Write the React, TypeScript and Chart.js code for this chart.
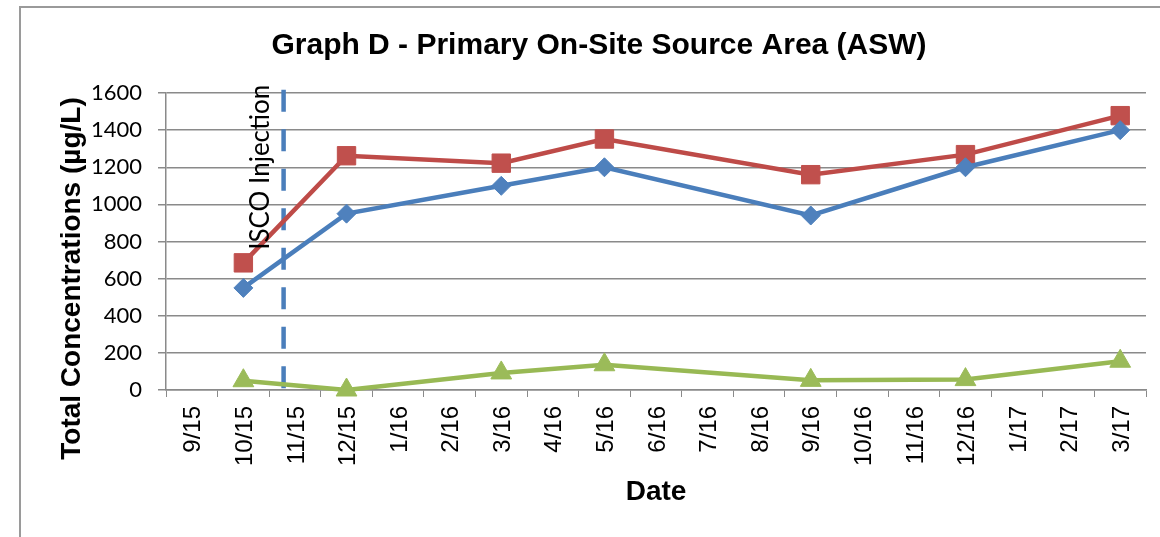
import React, { useEffect, useRef } from "react";
import { Chart, registerables } from "chart.js";

Chart.register(...registerables);

// ---- data ----
const months = [
  "9/15", "10/15", "11/15", "12/15", "1/16", "2/16", "3/16", "4/16", "5/16", "6/16",
  "7/16", "8/16", "9/16", "10/16", "11/16", "12/16", "1/17", "2/17", "3/17",
];
const seriesBlue = [null, 550, null, 950, null, null, 1100, null, 1200, null, null, null, 940, null, null, 1200, null, null, 1400];
const seriesRed = [null, 685, null, 1262, null, null, 1222, null, 1352, null, null, null, 1160, null, null, 1268, null, null, 1478];
const seriesGreen = [null, 50, null, 0, null, null, 92, null, 136, null, null, null, 52, null, null, 56, null, null, 155];
const yMin = 0;
const yMax = 1600;
const yStep = 200;
const injectionIndex = 1.78; // between 10/15 and 11/15
const injectionTop = 1618;
const injectionLabelAt = 1200;
const injectionLabel = "ISCO Injection";
const chartTitle = "Graph D - Primary On-Site Source Area (ASW)";
const yTitle = "Total Concentrations (µg/L)";
const xTitle = "Date";

const ARIAL = "'Liberation Sans', Arial, sans-serif";
const CALIBRI = "Lato, 'Open Sans', sans-serif";
const GRID = "#8a8a8a";

const annotPlugin = {
  id: "annot",
  beforeDatasetsDraw(chart: any) {
    const { ctx, scales } = chart;
    const x = scales.x;
    const y = scales.y;
    const px = x.getPixelForValue(injectionIndex);
    ctx.save();
    ctx.strokeStyle = "#4A7EBB";
    ctx.lineWidth = 4.5;
    ctx.setLineDash([22, 17.5]);
    ctx.beginPath();
    ctx.moveTo(px, y.getPixelForValue(injectionTop));
    ctx.lineTo(px, y.getPixelForValue(0));
    ctx.stroke();
    ctx.restore();
  },
  afterDraw(chart: any) {
    const { ctx, scales, chartArea } = chart;
    const x = scales.x;
    const y = scales.y;
    const px = x.getPixelForValue(injectionIndex);
    ctx.save();
    // injection label
    ctx.translate(px - 15, y.getPixelForValue(injectionLabelAt));
    ctx.rotate(-Math.PI / 2);
    ctx.font = `26px ${CALIBRI}`;
    ctx.fillStyle = "#000";
    ctx.textAlign = "center";
    ctx.textBaseline = "alphabetic";
    ctx.fillText(injectionLabel, 0, 0);
    ctx.restore();

    // y axis title
    ctx.save();
    ctx.translate(chartArea.left - 86, (chartArea.top + chartArea.bottom) / 2 + 37);
    ctx.rotate(-Math.PI / 2);
    ctx.font = `bold 28px ${ARIAL}`;
    ctx.fillStyle = "#000";
    ctx.textAlign = "center";
    ctx.textBaseline = "alphabetic";
    ctx.fillText(yTitle, 0, 0);
    ctx.restore();
  },
};

export default function App() {
  const ref = useRef<HTMLCanvasElement | null>(null);

  useEffect(() => {
    if (!ref.current) return;
    const chart = new Chart(ref.current, {
      type: "line",
      data: {
        labels: months,
        datasets: [
          {
            label: "Series 1",
            data: seriesBlue,
            borderColor: "#4A7EBB",
            backgroundColor: "#4F81BD",
            pointBackgroundColor: "#4F81BD",
            pointBorderColor: "#4F81BD",
            borderWidth: 4.5,
            pointStyle: "rectRot",
            pointRadius: 9.5,
            pointBorderWidth: 1,
            spanGaps: true,
            clip: false,
          },
          {
            label: "Series 2",
            data: seriesRed,
            borderColor: "#BE4B48",
            backgroundColor: "#C0504D",
            pointBackgroundColor: "#C0504D",
            pointBorderColor: "#C0504D",
            borderWidth: 4.5,
            pointStyle: "rect",
            pointRadius: 13,
            pointBorderWidth: 1,
            spanGaps: true,
            clip: false,
          },
          {
            label: "Series 3",
            data: seriesGreen,
            borderColor: "#98B954",
            backgroundColor: "#9BBB59",
            pointBackgroundColor: "#9BBB59",
            pointBorderColor: "#9BBB59",
            borderWidth: 4.5,
            pointStyle: "triangle",
            pointRadius: 12,
            pointBorderWidth: 1,
            spanGaps: true,
            clip: false,
          },
        ],
      },
      options: {
        responsive: false,
        animation: false,
        devicePixelRatio: 1,
        layout: { padding: { left: 48, right: 10, top: 0, bottom: 0 } },
        plugins: {
          legend: { display: false },
          tooltip: { enabled: false },
          title: {
            display: true,
            text: chartTitle,
            color: "#000",
            font: { family: ARIAL, size: 30, weight: "bold" },
            padding: { top: 28, bottom: 29 },
          },
        },
        scales: {
          x: {
            type: "category",
            offset: true,
            afterFit(scale: any) {
              scale.height = 147;
            },
            grid: {
              offset: true,
              drawOnChartArea: false,
              drawTicks: true,
              tickLength: 7,
              color: GRID,
              lineWidth: 1,
            },
            border: { display: true, color: GRID, width: 1.5 },
            ticks: {
              autoSkip: false,
              maxRotation: 90,
              minRotation: 90,
              padding: 9,
              labelOffset: 2,
              color: "#000",
              font: { family: ARIAL, size: 24 },
            },
            title: {
              display: true,
              text: xTitle,
              color: "#000",
              font: { family: ARIAL, size: 28, weight: "bold" },
              padding: { top: 0, bottom: 28 },
            },
          },
          y: {
            min: yMin,
            max: yMax,
            afterFit(scale: any) {
              scale.width = 118;
            },
            grid: {
              color: GRID,
              lineWidth: 1.5,
              drawTicks: true,
              tickLength: 8,
            },
            border: { display: true, color: GRID, width: 1.5 },
            ticks: {
              stepSize: yStep,
              padding: 16,
              color: "#000",
              font: { family: CALIBRI, size: 22 },
              callback: (v: any) => String(v),
            },
          },
        },
      },
      plugins: [annotPlugin],
    } as any);
    return () => chart.destroy();
  }, []);

  return (
    <div
      style={{
        position: "fixed",
        left: 0,
        top: 0,
        width: 1160,
        height: 537,
        overflow: "hidden",
        background: "#fff",
      }}
    >
      <div
        style={{
          position: "absolute",
          left: 19,
          top: 6,
          width: 1200,
          height: 600,
          border: "2px solid #9a9a9a",
        }}
      />
      <canvas
        ref={ref}
        width={1160}
        height={537}
        style={{ position: "absolute", left: 0, top: 0, width: 1160, height: 537 }}
      />
    </div>
  );
}
